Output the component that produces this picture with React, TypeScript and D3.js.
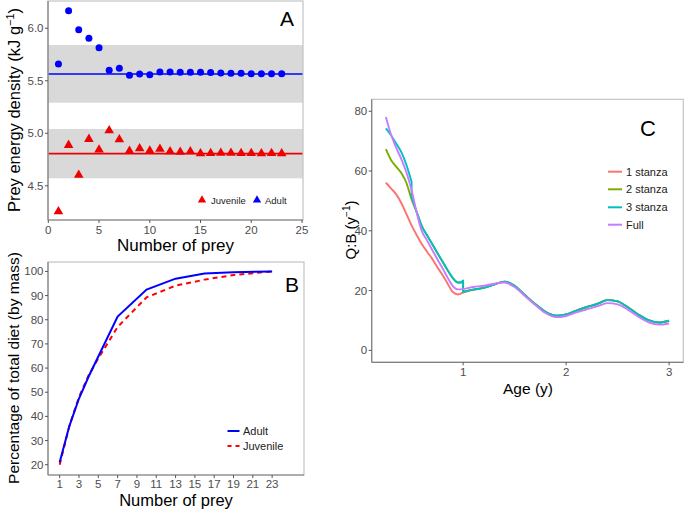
import React from 'react';
import * as d3 from 'd3';

// ---------- Panel A data ----------
const preyNumbers = [1,2,3,4,5,6,7,8,9,10,11,12,13,14,15,16,17,18,19,20,21,22,23];
const adultDensity = [5.66,6.168,5.987,5.905,5.815,5.60,5.619,5.552,5.565,5.558,5.584,5.584,5.581,5.581,5.581,5.58,5.574,5.571,5.571,5.568,5.568,5.568,5.568];
const juvenileDensity = [4.263,4.895,4.61,4.952,4.85,5.034,4.949,4.838,4.863,4.841,4.857,4.834,4.83,4.834,4.815,4.818,4.82,4.82,4.818,4.818,4.815,4.818,4.815];
const adultMean = 5.565;
const adultBand = [5.291, 5.841];
const juvenileMean = 4.806;
const juvenileBand = [4.571, 5.041];
const ticksAx = [0,5,10,15,20,25];
const ticksAy = [4.5,5.0,5.5,6.0];

// ---------- Panel B data ----------
const cumPrey = [1,2,3,4,5,7,10,13,16,19,23];
const adultCum = [21,36,47.4,56.5,64.8,81.3,92.5,97,99.1,99.7,100];
const juvenileCum = [20,36,48,57,64,77,89.3,94.1,96.6,98.5,100];
const ticksBx = [1,3,5,7,9,11,13,15,17,19,21,23];
const ticksBy = [20,30,40,50,60,70,80,90,100];

// ---------- Panel C data ----------
const postAge = [1.0,1.1,1.2,1.3,1.4,1.5,1.6,1.7,1.8,1.9,2.0,2.1,2.2,2.3,2.4,2.5,2.6,2.7,2.8,2.9,3.0];
const postStanza = [19.6,20.3,20.9,22.0,23.0,21.6,18.5,15.5,12.9,11.6,12.0,13.3,14.5,15.5,16.8,16.4,14.4,12.0,10.1,9.3,9.9];
const postFull = [20.5,21.2,21.6,22.3,22.7,21.2,18.2,15.2,12.5,11.1,11.5,12.7,13.7,14.7,15.8,15.4,13.6,11.3,9.4,8.6,9.0];

const stanza1Age = [0.25,0.3,0.35,0.4,0.45,0.5,0.55,0.6,0.65,0.7,0.75,0.8,0.85,0.9,0.95,1.0];
const stanza1QB = [56.1,54.2,52.2,49.3,45.6,41.8,38.5,35.5,33.0,30.6,27.8,25.2,22.3,19.5,18.7,19.3];
const stanza2Age = [0.25,0.3,0.35,0.4,0.45,0.5,0.55,0.6,0.65,0.7,0.75,0.8,0.85,0.9,0.95,1.0];
const stanza2QB = [67.3,63.7,61.5,59.3,56.0,50.5,46.2,41.5,38.5,35.6,32.6,29.7,26.8,24.2,22.7,22.8];
const stanza3Age = [0.25,0.3,0.35,0.4,0.45,0.485,0.5,0.5,0.55,0.6,0.65,0.7,0.75,0.8,0.85,0.9,0.95,0.98,1.0];
const stanza3QB = [74.3,72.0,69.2,66.3,62.0,58.1,56.4,51.4,46.2,41.5,38.5,35.6,32.6,29.7,26.8,24.2,22.7,22.8,23.4];
const fullAge = [0.25,0.3,0.35,0.4,0.45,0.5,0.55,0.6,0.65,0.7,0.75,0.8,0.85,0.9,0.95];
const fullQB = [78.1,72.2,67.8,64.0,59.5,53.6,46.0,39.8,36.8,33.6,30.5,27.5,24.3,21.5,20.4];
const ticksCx = [1,2,3];
const ticksCy = [0,20,40,60,80];
const seriesNames = ['1 stanza','2 stanza','3 stanza','Full'];
const seriesColors = ['#F8766D','#7CAE00','#00BFC4','#C77CFF'];

const FONT = '"Liberation Sans", Arial, sans-serif';
const TICK_COL = '#4d4d4d';

type Pt = [number, number];

function segPath(pts: Pt[], x: any, y: any): string {
  const segs: Pt[][] = [];
  let cur: Pt[] = [];
  pts.forEach((p, i) => {
    if (i > 0 && p[0] === pts[i - 1][0]) {
      segs.push(cur);
      cur = [];
    }
    cur.push(p);
  });
  segs.push(cur);
  const line = d3.line<Pt>().x(d => x(d[0])).y(d => y(d[1])).curve(d3.curveMonotoneX);
  return segs.map((s, i) => {
    const d = line(s) || '';
    return i === 0 ? d : 'L' + d.slice(1);
  }).join('');
}

function Frame({ l, r, t, b }: { l: number; r: number; t: number; b: number }) {
  return (
    <g>
      <rect x={l} y={t} width={r - l} height={b - t} fill="none" stroke="#c4c4c4" strokeWidth={1.2} />
      <line x1={l} x2={l} y1={t} y2={b} stroke="#808080" strokeWidth={1.2} />
      <line x1={l} x2={r} y1={b} y2={b} stroke="#808080" strokeWidth={1.2} />
    </g>
  );
}

function AxisY({ scale, ticks, x, fmt }: any) {
  return (
    <g>
      {ticks.map((t: number) => (
        <g key={t}>
          <line x1={x - 3} x2={x} y1={scale(t)} y2={scale(t)} stroke="#555" strokeWidth={1} />
          <text x={x - 4.5} y={scale(t)} dy="0.35em" textAnchor="end" fontSize={11.5} fill={TICK_COL} fontFamily={FONT}>{fmt(t)}</text>
        </g>
      ))}
    </g>
  );
}

function AxisX({ scale, ticks, y, fmt, off = 14 }: any) {
  return (
    <g>
      {ticks.map((t: number) => (
        <g key={t}>
          <line x1={scale(t)} x2={scale(t)} y1={y} y2={y + 3} stroke="#555" strokeWidth={1} />
          <text x={scale(t)} y={y + off} textAnchor="middle" fontSize={11.5} fill={TICK_COL} fontFamily={FONT}>{fmt(t)}</text>
        </g>
      ))}
    </g>
  );
}

export default function App() {
  // Panel A
  const A = { l: 48, r: 303, t: 1, b: 220 };
  const xA = d3.scaleLinear().domain([0, 25.1]).range([48.3, 303]);
  const yA = d3.scaleLinear().domain([4.174, 6.26]).range([A.b, A.t]);
  const tri = d3.symbol().type(d3.symbolTriangle).size(40)() || '';
  const triSmall = d3.symbol().type(d3.symbolTriangle).size(30)() || '';

  // Panel B
  const B = { l: 48, r: 304, t: 262, b: 475 };
  const xB = d3.scaleLinear().domain([-0.21, 26.3]).range([B.l, B.r]);
  const yB = d3.scaleLinear().domain([15.74, 103.9]).range([B.b, B.t]);
  const lineB = d3.line<number>().x((_, i) => xB(cumPrey[i])).y(d => yB(d));

  // Panel C
  const C = { l: 371.7, r: 683.3, t: 99.3, b: 362.3 };
  const xC = d3.scaleLinear().domain([0.1125, 3.1375]).range([C.l, C.r]);
  const yC = d3.scaleLinear().domain([-4, 84]).range([C.b, C.t]);

  const zip = (a: number[], b: number[]): Pt[] => a.map((v, i) => [v, b[i]] as Pt);
  const post = zip(postAge, postStanza);
  const seriesPts: Pt[][] = [
    zip(stanza1Age, stanza1QB).concat(post.slice(1)),
    zip(stanza2Age, stanza2QB).concat(post),
    zip(stanza3Age, stanza3QB).concat(post),
    zip(fullAge, fullQB).concat(zip(postAge, postFull)),
  ];

  return (
    <svg width={685} height={512} style={{ position: 'absolute', left: 0, top: 0, background: '#fff' }} fontFamily={FONT}>
      {/* ===== Panel A ===== */}
      <rect x={A.l} y={yA(adultBand[1])} width={A.r - A.l} height={yA(adultBand[0]) - yA(adultBand[1])} fill="#d9d9d9" />
      <rect x={A.l} y={yA(juvenileBand[1])} width={A.r - A.l} height={yA(juvenileBand[0]) - yA(juvenileBand[1])} fill="#d9d9d9" />
      <line x1={A.l} x2={A.r} y1={yA(adultMean)} y2={yA(adultMean)} stroke="#0000ff" strokeWidth={1.6} />
      <line x1={A.l} x2={A.r} y1={yA(juvenileMean)} y2={yA(juvenileMean)} stroke="#ee0000" strokeWidth={1.6} />
      {preyNumbers.map((n, i) => (
        <circle key={'a' + n} cx={xA(n)} cy={yA(adultDensity[i])} r={3.5} fill="#0000ff" />
      ))}
      {preyNumbers.map((n, i) => (
        <path key={'j' + n} d={tri} transform={`translate(${xA(n)},${yA(juvenileDensity[i]) + 0.8})`} fill="#ee0000" />
      ))}
      <Frame {...A} />
      <AxisY scale={yA} ticks={ticksAy} x={A.l} fmt={d3.format('.1f')} />
      <AxisX scale={xA} ticks={ticksAx} y={A.b} fmt={d3.format('d')} />
      <text x={287} y={26} textAnchor="middle" fontSize={21} fill="#000">A</text>
      <path d={triSmall} transform="translate(202,200)" fill="#ee0000" />
      <text x={211} y={203.5} fontSize={9.5} fill="#222">Juvenile</text>
      <path d={triSmall} transform="translate(257,200)" fill="#0000ff" />
      <text x={265} y={203.5} fontSize={9.5} fill="#222">Adult</text>
      <text transform="translate(20,110) rotate(-90)" textAnchor="middle" fontSize={16.5} fill="#000">
        Prey energy density (kJ g<tspan dy={-6} fontSize={11}>−1</tspan><tspan dy={6}>)</tspan>
      </text>
      <text x={175.5} y={251} textAnchor="middle" fontSize={17} fill="#000">Number of prey</text>

      {/* ===== Panel B ===== */}
      <path d={lineB(juvenileCum) || ''} fill="none" stroke="#ff0000" strokeWidth={2} strokeDasharray="5,4" />
      <path d={lineB(adultCum) || ''} fill="none" stroke="#0000ff" strokeWidth={2} />
      <Frame {...B} />
      <AxisY scale={yB} ticks={ticksBy} x={B.l} fmt={d3.format('d')} />
      <AxisX scale={xB} ticks={ticksBx} y={B.b} fmt={d3.format('d')} off={12.5} />
      <text x={292} y={292} textAnchor="middle" fontSize={21} fill="#000">B</text>
      <line x1={227.5} x2={239.5} y1={431} y2={431} stroke="#0000ff" strokeWidth={2} />
      <text x={243} y={435} fontSize={11} fill="#222">Adult</text>
      <line x1={227.5} x2={239.5} y1={446} y2={446} stroke="#ff0000" strokeWidth={2} strokeDasharray="4,4" />
      <text x={243} y={450} fontSize={11} fill="#222">Juvenile</text>
      <text transform="translate(19,368) rotate(-90)" textAnchor="middle" fontSize={15.5} fill="#000">Percentage of total diet (by mass)</text>
      <text x={176} y={505.5} textAnchor="middle" fontSize={16.5} fill="#000">Number of prey</text>

      {/* ===== Panel C ===== */}
      {seriesPts.map((pts, i) => (
        <path key={seriesNames[i]} d={segPath(pts, xC, yC)} fill="none" stroke={seriesColors[i]} strokeWidth={1.9} strokeLinejoin="round" />
      ))}
      <Frame {...C} />
      <AxisY scale={yC} ticks={ticksCy} x={C.l} fmt={d3.format('d')} />
      <AxisX scale={xC} ticks={ticksCx} y={C.b} fmt={d3.format('d')} />
      <text x={648} y={136} textAnchor="middle" fontSize={22} fill="#000">C</text>
      {seriesNames.map((nm, i) => {
        const ly = [171.7, 189.3, 207.3, 224.7][i];
        return (
          <g key={nm}>
            <line x1={608} x2={622} y1={ly} y2={ly} stroke={seriesColors[i]} strokeWidth={2} />
            <text x={626} y={ly + 4} fontSize={11} fill="#222">{nm}</text>
          </g>
        );
      })}
      <text transform="translate(356,230) rotate(-90)" textAnchor="middle" fontSize={15} fill="#000">
        {'Q:B\u00A0(y'}<tspan dy={-6} fontSize={10}>−1</tspan><tspan dy={6}>)</tspan>
      </text>
      <text x={528} y={394} textAnchor="middle" fontSize={15.5} fill="#000">Age (y)</text>
    </svg>
  );
}
